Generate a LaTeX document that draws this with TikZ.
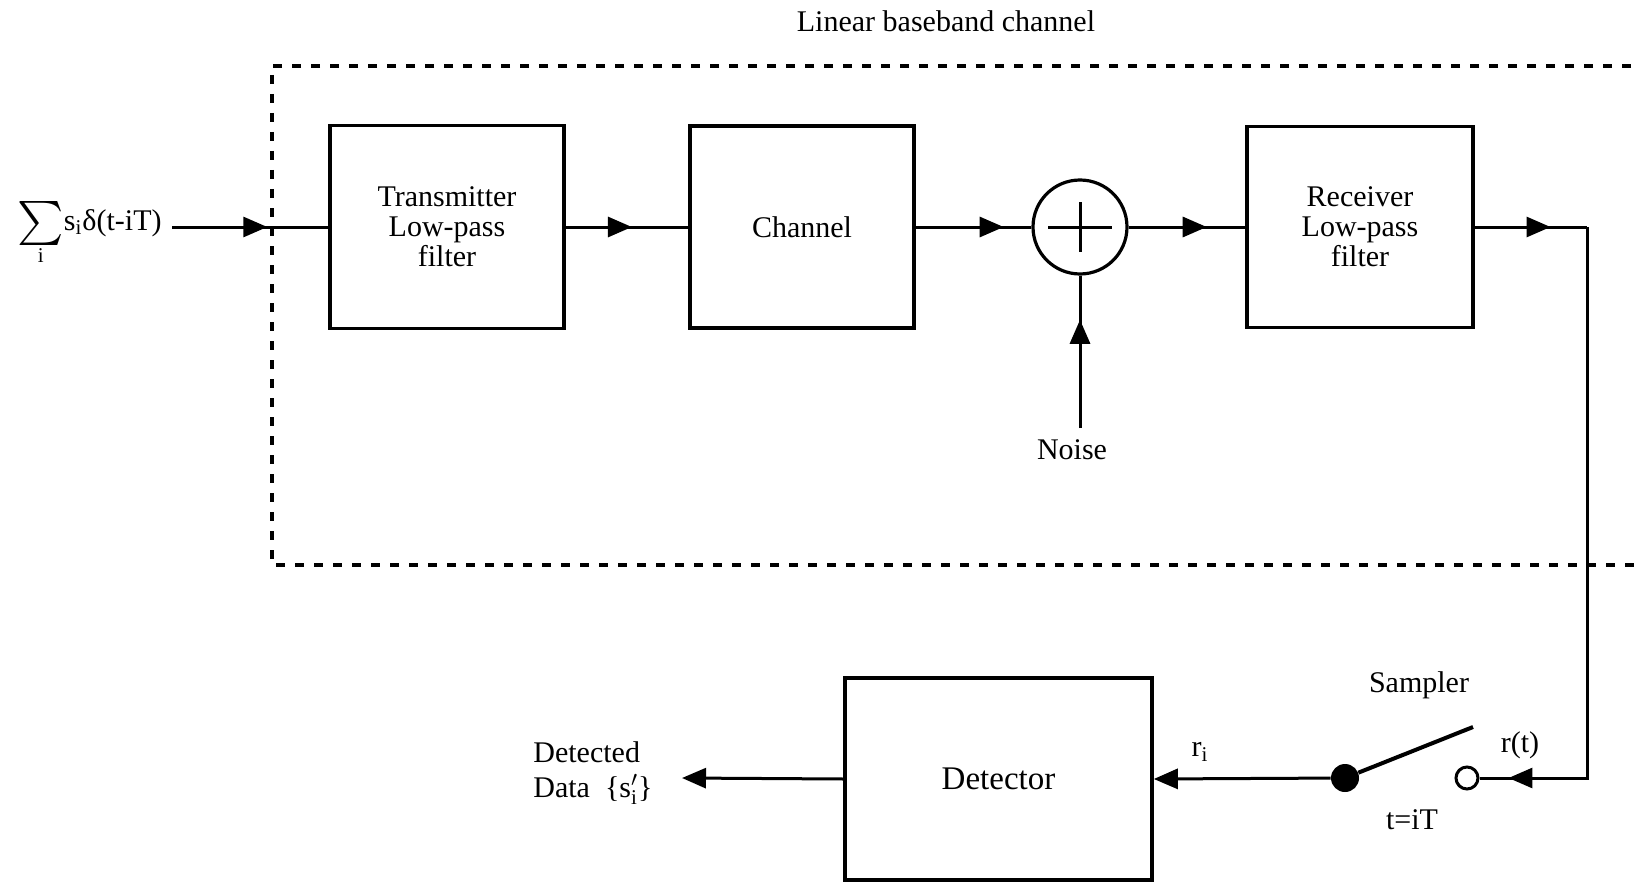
\documentclass[tikz,border=0pt]{standalone}
\usepackage{fontspec}
\setmainfont{Liberation Serif}
\usetikzlibrary{arrows.meta,decorations.markings}
\tikzset{
  tri/.tip={Triangle[length=12pt,width=10pt]},
  blk/.style={draw, line width=1.8pt, align=center},
  ln/.style={line width=1.5pt},
  midarrow/.style={postaction={decorate},decoration={markings,mark=at position #1 with {\arrow{tri}}}},
}
\begin{document}
\begin{tikzpicture}[x=0.5pt,y=-0.5pt,
  every node/.style={font=\fontsize{15pt}{15pt}\selectfont, inner sep=0pt}]
\useasboundingbox (0,0) rectangle (1634,883);
% dashed enclosure (linear baseband channel)
\draw[line width=1.6pt, dash pattern=on 4.5pt off 5pt] (1650,66) -- (272,66) -- (272,565) -- (1650,565);
\node (title) at (946,21) {Linear baseband channel};
% blocks
\node[blk, minimum width=117pt, minimum height=101.5pt] (tx) at (447,227) {Transmitter\\Low-pass\\filter};
\node[blk, minimum width=112pt, minimum height=101pt] (ch) at (802,227) {Channel};
\node[draw, circle, line width=1.6pt, minimum size=47pt] (sum) at (1080,227) {};
\draw[ln] ([xshift=-16pt]sum.center) -- ([xshift=16pt]sum.center);
\draw[ln] ([yshift=12.5pt]sum.center) -- ([yshift=-12.5pt]sum.center);
\node[blk, minimum width=113pt, minimum height=100.5pt] (rx) at (1360,227) {Receiver\\Low-pass\\filter};
\node (noise) at (1072,450) {Noise};
\coordinate (nz) at (1080,428);
\coordinate (corner) at (1587,227);
\node[blk, minimum width=153.5pt, minimum height=101pt, font=\fontsize{16.5pt}{16.5pt}\selectfont] (det) at (998.5,779) {Detector};
% sampler
\node[circle, fill, minimum size=14pt] (dot) at (1345,778) {};
\node[circle, draw, line width=1.5pt, minimum size=11pt, fill=white] (opn) at (1467,778) {};
\coordinate (swend) at (1473,727);
\node (sampler) at (1419,685) {Sampler};
\node (tit) at (1412,820) {t=iT};
\node (rt) at (1520,745) {r(t)};
\node (ri) at (1200,752) {r$_{\mathrm{i}}$};
\node[align=left, anchor=west] (dd) at (533,773) {Detected\\[2.5pt]Data \ \{s$'_{\mathrm{i}}$\}};
\coordinate (outtip) at (682,778);
\node[anchor=east] (inp) at (162,233) {$\mathop{\vcenter{\hbox{\scalebox{2.2}{$\sum$}}}}\limits_{\mathrm{i}}$s$_{\mathrm{i}}$δ(t-iT)};
\coordinate (instart) at (172,227);
% connectors
\draw[ln, midarrow=0.61] (instart) -- (tx.west);
\draw[ln, midarrow=0.54] (tx.east) -- (ch.west);
\draw[ln, midarrow=0.76] (ch.east) -- (sum.west);
\draw[ln, midarrow=0.67] (sum.east) -- (rx.west);
\draw[ln, midarrow=0.675] (rx.east) -- (corner);
\draw[ln, midarrow=0.956] (corner) |- (opn.east);
\draw[ln, midarrow=0.71] (nz) -- (sum.south);
\draw[ln, -tri] (dot) -- (det.east);
\draw[ln, -tri] (det.west) -- (outtip);
\draw[line width=2pt] (dot) -- (swend);
\end{tikzpicture}
\end{document}
